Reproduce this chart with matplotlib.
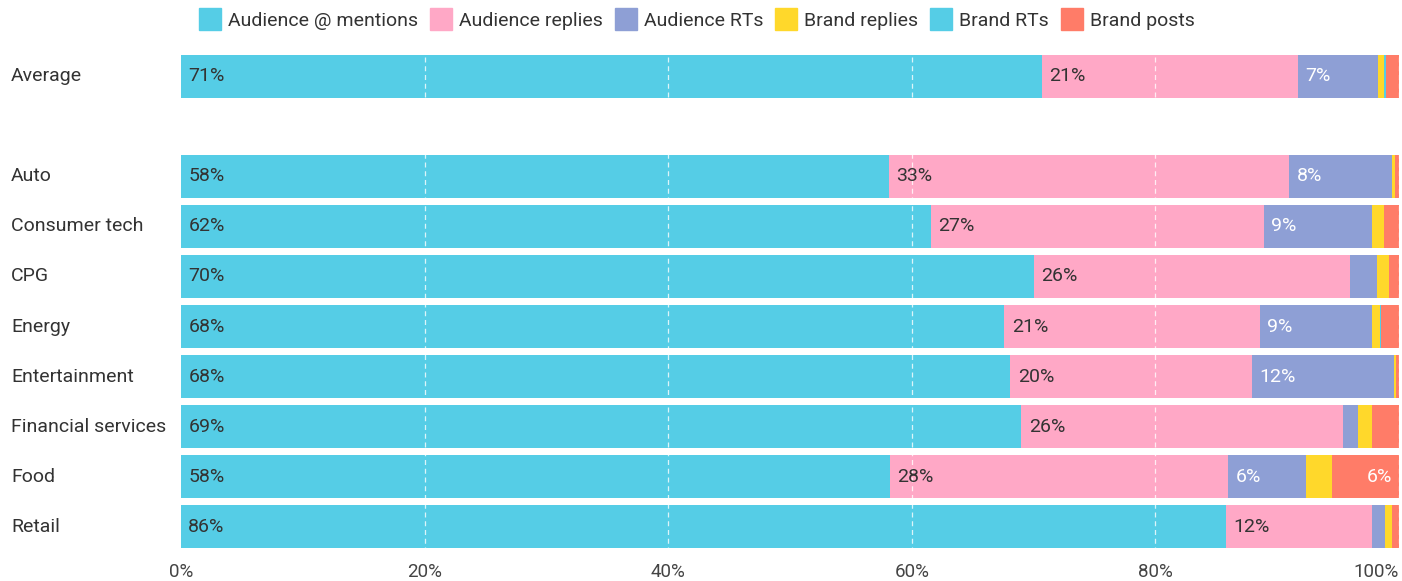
import matplotlib
matplotlib.use("Agg")
import matplotlib.pyplot as plt
import matplotlib.transforms as mtransforms

plt.rcParams['font.family'] = ['Roboto', 'DejaVu Sans']

categories = ["Average", "Auto", "Consumer tech", "CPG", "Energy", "Entertainment",
              "Financial services", "Food", "Retail"]
series = ["Audience @ mentions", "Audience replies", "Audience RTs",
          "Brand replies", "Brand RTs", "Brand posts"]

aud_mentions = [70.7, 58.1, 61.6, 70.0, 67.6, 68.1, 69.0, 58.2, 85.8]
aud_replies = [21.0, 32.9, 27.3, 26.0, 21.0, 19.8, 26.4, 27.8, 12.0]
aud_rts = [6.6, 8.4, 8.9, 2.2, 9.2, 11.7, 1.2, 6.4, 1.05]
brand_replies = [0.5, 0.3, 1.0, 1.0, 0.65, 0.15, 1.2, 2.1, 0.55]
brand_rts = [0.15, 0.0, 0.0, 0.0, 0.1, 0.0, 0.0, 0.0, 0.0]
brand_posts = [1.05, 0.35, 1.2, 0.8, 1.45, 0.25, 2.2, 5.5, 0.6]

colors = ["#55CDE6", "#FFA8C6", "#8E9FD5", "#FFD82B", "#55CDE6", "#FF7C68"]
label_colors = ["#333333", "#333333", "white", "#333333", "#333333", "white"]

values = [aud_mentions, aud_replies, aud_rts, brand_replies, brand_rts, brand_posts]
ypos = [0, 2, 3, 4, 5, 6, 7, 8, 9]

fig = plt.figure(figsize=(14.02, 5.81), dpi=100)
ax = fig.add_axes([181 / 1402, 1 - 552 / 581, 1218 / 1402, 501 / 581])

left = [0.0] * len(categories)
for s, vals in enumerate(values):
    ax.barh(ypos, vals, left=left, height=0.86, color=colors[s], linewidth=0, zorder=2)
    for i, v in enumerate(vals):
        if v >= 5:
            txt = f"{round(v):.0f}%"
            if s == 5:
                ax.text(left[i] + v - 0.6, ypos[i], txt, ha='right', va='center',
                        color=label_colors[s], fontsize=14, zorder=4)
            else:
                ax.text(left[i] + 0.6, ypos[i], txt, ha='left', va='center',
                        color=label_colors[s], fontsize=14, zorder=4)
    left = [l + v for l, v in zip(left, vals)]

for x in [20, 40, 60, 80, 100]:
    ax.axvline(x, color='white', linestyle=(0, (4, 3)), linewidth=0.9, alpha=0.8, zorder=3)

ax.set_xlim(0, 100)
ax.set_ylim(9.5, -0.5)
ax.set_xticks([0, 20, 40, 60, 80, 100])
ax.set_xticklabels(["0%", "20%", "40%", "60%", "80%", "100%"], fontsize=13.5, color='#444444')
ax.get_xticklabels()[-1].set_ha('right')
ax.set_yticks([])
ax.tick_params(axis='x', length=0, pad=8)
for sp in ax.spines.values():
    sp.set_visible(False)

trans = mtransforms.blended_transform_factory(fig.transFigure, ax.transData)
for c, y in zip(categories, ypos):
    ax.text(11 / 1402, y, c, transform=trans, ha='left', va='center', fontsize=14, color='#333333')

# legend
handles = [plt.Rectangle((0, 0), 1, 1, color=c) for c in colors]
fig.legend(handles, series, loc='center', bbox_to_anchor=(0.497, 1 - 19 / 581), ncol=6,
           frameon=False, fontsize=14, handlelength=1.15, handleheight=1.3,
           handletextpad=0.35, columnspacing=0.6, labelcolor='#333333')

fig.savefig("out.png", dpi=100)
